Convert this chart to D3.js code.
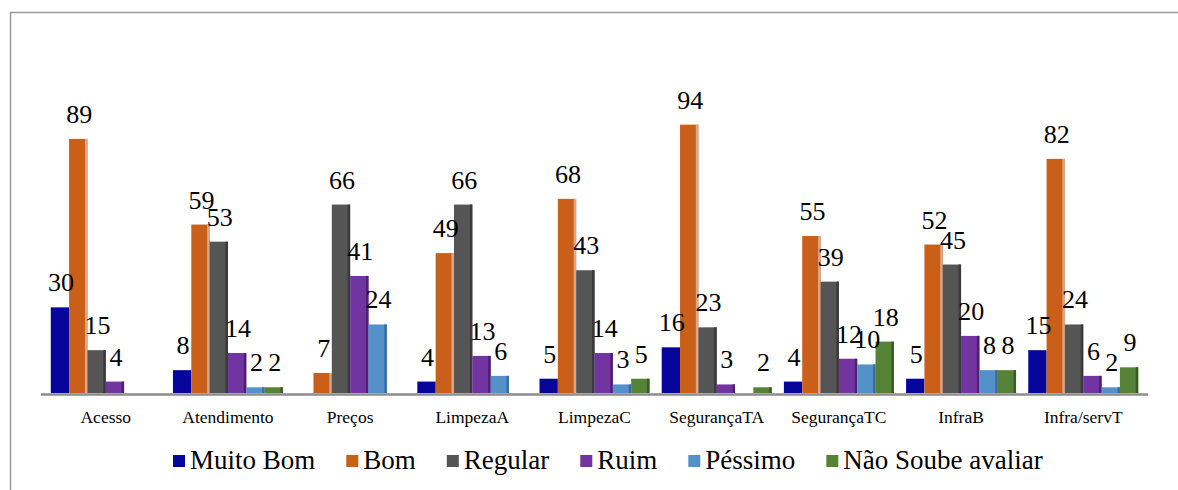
<!DOCTYPE html>
<html>
<head>
<meta charset="utf-8">
<script src="https://cdn.jsdelivr.net/npm/d3@7"></script>
</head>
<body style="margin:0;background:#fff">
<svg id="chart" width="1178" height="490" style="display:block"></svg>
<script>
const categories = ["Acesso", "Atendimento", "Preços", "LimpezaA", "LimpezaC", "SegurançaTA", "SegurançaTC", "InfraB", "Infra/servT"];
const seriesNames = ["Muito Bom", "Bom", "Regular", "Ruim", "Péssimo", "Não Soube avaliar"];
const muitoBom   = [30, 8, 0, 4, 5, 16, 4, 5, 15];
const bom        = [89, 59, 7, 49, 68, 94, 55, 52, 82];
const regular    = [15, 53, 66, 66, 43, 23, 39, 45, 24];
const ruim       = [4, 14, 41, 13, 14, 3, 12, 20, 6];
const pessimo    = [0, 2, 24, 6, 3, 0, 10, 8, 2];
const naoSoube   = [0, 2, 0, 0, 5, 2, 18, 8, 9];
const seriesValues = [muitoBom, bom, regular, ruim, pessimo, naoSoube];

const colors = ["#06069a", "#c95f18", "#555555", "#7234a0", "#5591c9", "#558236"];
const edgeColors = [null, "#d9a88c", "#3a3a3a", "#4f1f73", "#3b6c9c", "#3a5c24"];
const FONT = "Liberation Serif";

const svg = d3.select("#chart");

// frame
svg.append("line").attr("x1", 10).attr("y1", 12.5).attr("x2", 1178).attr("y2", 12.5)
  .attr("stroke", "#9a9a9a").attr("stroke-width", 1.5);
svg.append("line").attr("x1", 10.5).attr("y1", 12).attr("x2", 10.5).attr("y2", 490)
  .attr("stroke", "#9a9a9a").attr("stroke-width", 1.5);

const x0 = d3.scaleBand().domain(categories).range([41, 1148]).paddingInner(0.1).paddingOuter(0.08);
const x1 = d3.scaleBand().domain(seriesNames).range([0, x0.bandwidth()]);
const y = d3.scaleLinear().domain([0, 100]).range([393, 107.5]);

const rows = [];
categories.forEach((c, ci) => {
  seriesNames.forEach((s, si) => {
    rows.push({ cat: c, series: s, si, value: seriesValues[si][ci] });
  });
});
const shown = rows.filter(d => d.value > 0);

const g = svg.append("g");
const bars = g.selectAll("g.bar").data(shown).join("g").attr("class", "bar");
bars.append("rect")
  .attr("x", d => x0(d.cat) + x1(d.series))
  .attr("y", d => y(d.value))
  .attr("width", x1.bandwidth())
  .attr("height", d => y(0) - y(d.value))
  .attr("fill", d => colors[d.si]);
bars.filter(d => edgeColors[d.si]).append("rect")
  .attr("x", d => x0(d.cat) + x1(d.series) + x1.bandwidth() - 2.5)
  .attr("y", d => y(d.value))
  .attr("width", 2.5)
  .attr("height", d => y(0) - y(d.value))
  .attr("fill", d => edgeColors[d.si]);

// axis line
svg.append("line").attr("x1", 41).attr("x2", 1148).attr("y1", 394.5).attr("y2", 394.5)
  .attr("stroke", "#8c8c8c").attr("stroke-width", 2.5);

// category labels
svg.append("g").selectAll("text").data(categories).join("text")
  .attr("x", d => x0(d) + x0.bandwidth() / 2)
  .attr("y", 423)
  .attr("text-anchor", "middle")
  .attr("font-family", FONT)
  .attr("font-size", 17.5)
  .attr("fill", "#000")
  .text(d => d);

// value labels
svg.append("g").selectAll("text").data(shown).join("text")
  .attr("x", d => x0(d.cat) + x1(d.series) + x1.bandwidth() / 2 + 1)
  .attr("y", d => y(d.value) - 16)
  .attr("text-anchor", "middle")
  .attr("font-family", FONT)
  .attr("font-size", 26)
  .attr("fill", "#000")
  .text(d => d.value);

// legend
const lg = svg.append("g");
let lx = 173;
seriesNames.forEach((s, i) => {
  lg.append("rect").attr("x", lx).attr("y", 455).attr("width", 12).attr("height", 12).attr("fill", colors[i]);
  const t = lg.append("text").attr("x", lx + 17).attr("y", 469)
    .attr("font-family", FONT)
    .attr("font-size", 27).attr("fill", "#000").text(s);
  const w = t.node().getComputedTextLength();
  lx = lx + 17 + w + 31;
});
</script>
</body>
</html>
